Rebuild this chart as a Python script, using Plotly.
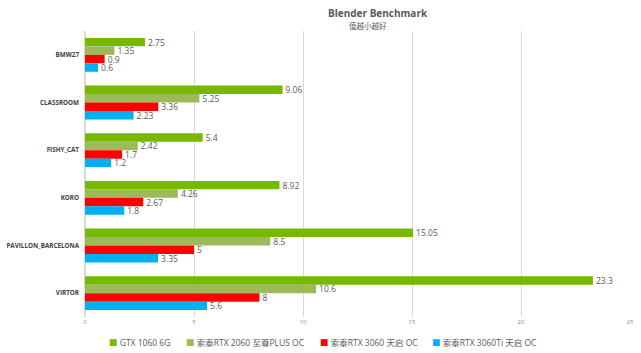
import plotly.graph_objects as go

categories = ["BMW27", "CLASSROOM", "FISHY_CAT", "KORO", "PAVILLON_BARCELONA", "VIRTOR"]
series_names = ["GTX 1060 6G", "索泰RTX 2060 至尊PLUS OC", "索泰RTX 3060 天启 OC", "索泰RTX 3060Ti 天启 OC"]
gtx1060 = [2.75, 9.06, 5.4, 8.92, 15.05, 23.3]
rtx2060 = [1.35, 5.25, 2.42, 4.26, 8.5, 10.6]
rtx3060 = [0.9, 3.36, 1.7, 2.67, 5, 8]
rtx3060ti = [0.6, 2.23, 1.2, 1.8, 3.35, 5.6]
colors = ["#76B900", "#9BBB59", "#FF0000", "#00B0F0"]
x_ticks = [0, 5, 10, 15, 20, 25]

W, H = 641, 353
ML, MR, MT, MB = 85, 11, 31, 36
PW, PH = W - ML - MR, H - MT - MB

font = "Open Sans, Noto Sans CJK SC, sans-serif"
fig = go.Figure()
for name, vals, c in zip(series_names, [gtx1060, rtx2060, rtx3060, rtx3060ti], colors):
    fig.add_trace(go.Bar(
        y=categories, x=vals, name=name, orientation="h",
        marker=dict(color=c, line=dict(width=0)),
        text=[str(v) for v in vals], textposition="outside",
        constraintext="none",
        textfont=dict(size=8.5, color="#595959", family=font),
        cliponaxis=False, showlegend=False,
    ))

fig.update_layout(
    width=W, height=H,
    margin=dict(l=ML, r=MR, t=MT, b=MB, autoexpand=False),
    barmode="group", bargap=0.29, bargroupgap=0.0,
    paper_bgcolor="white", plot_bgcolor="white",
    font=dict(family=font, color="#595959"),
    showlegend=False,
    xaxis=dict(range=[0, 25], tickvals=x_ticks, showgrid=True, gridcolor="#D9D9D9",
               gridwidth=1, zeroline=True, zerolinecolor="#D9D9D9",
               tickfont=dict(size=6, color="#8C8C8C"), showline=False, ticks=""),
    yaxis=dict(autorange="reversed",
               tickfont=dict(size=6.3, color="#404040", family="Open Sans, sans-serif", weight="bold"),
               showline=False, ticks="", ticklabelstandoff=5),
)

def px_x(p):
    return (p - ML) / PW

def px_y(p):
    return (H - MB - p) / PH

fig.add_annotation(text="<b>Blender Benchmark</b>", xref="paper", yref="paper",
                   x=px_x(378), y=px_y(13), xanchor="center", yanchor="middle", showarrow=False,
                   font=dict(size=10, color="#595959", family="Open Sans, sans-serif"))
fig.add_annotation(text="值越小越好", xref="paper", yref="paper",
                   x=px_x(368), y=px_y(25.5), xanchor="center", yanchor="middle", showarrow=False,
                   font=dict(size=7.5, color="#595959", family="Noto Sans CJK SC, sans-serif"))

# legend (series names with colour squares)
legend_x = [107, 184, 318, 430]
for name, c, lx in zip(series_names, colors, legend_x):
    fig.add_annotation(text=f"<span style='color:{c}'>■</span> {name}", xref="paper", yref="paper",
                       x=px_x(lx), y=px_y(342), xanchor="left", yanchor="middle", showarrow=False,
                       font=dict(size=8.5, color="#595959", family=font))

fig.write_html("out.html")
